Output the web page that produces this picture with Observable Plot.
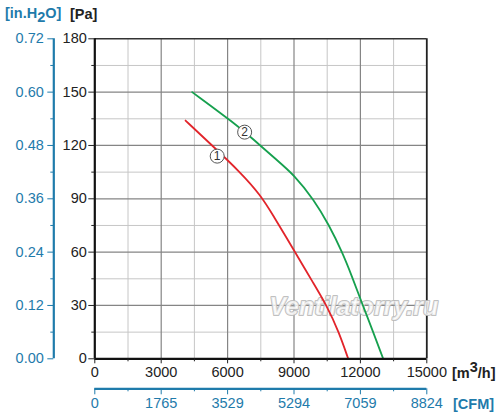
<!DOCTYPE html>
<html>
<head>
<meta charset="utf-8">
<script src="https://cdn.jsdelivr.net/npm/d3@7"></script>
<script src="https://cdn.jsdelivr.net/npm/@observablehq/plot@0.6"></script>
<style>
  html, body { margin: 0; padding: 0; background: #fff; }
  #chart svg { display: block; font-family: "Liberation Sans", Arial, sans-serif; }
</style>
</head>
<body>
<div id="chart"></div>
<script>
// Curve 1 (red)
const curve1Flow = [4100, 5300, 6570, 7500, 8090, 8690, 9000, 9450, 9780, 10480, 11030, 11450];
const curve1Pa   = [134, 120, 105, 92, 80, 67.5, 61, 51.5, 44.5, 30, 15, 0];
// Curve 2 (green)
const curve2Flow = [4400, 6360, 7160, 8240, 9000, 9900, 10570, 11180, 11630, 12080, 12580, 13030];
const curve2Pa   = [150, 132, 123.5, 111.6, 103.5, 89.5, 75.5, 60, 46, 31, 15, 0];

// Curve label positions
const curveLabels = ["1", "2"];
const curveLabelFlow = [5530, 6770];
const curveLabelPa = [114, 127.5];

// Axis ticks
const flowTicks = [0, 3000, 6000, 9000, 12000, 15000];
const flowMinorTicks = [1500, 4500, 7500, 10500, 13500];
const cfmLabels = ["0", "1765", "3529", "5294", "7059", "8824"];
const paTicks = [0, 30, 60, 90, 120, 150, 180];
const paMinorTicks = [15, 45, 75, 105, 135, 165];
const inH2OLabels = ["0.00", "0.12", "0.24", "0.36", "0.48", "0.60", "0.72"];

const watermark = "Ventilatorry.ru";
const watermarkFlow = 11700;
const watermarkPa = 29;

const BLUE = "#1f7bab";
const RED = "#e2242a";
const GREEN = "#16a04e";
const FS = 14.5;

const c1 = curve1Flow.map((f, i) => ({flow: f, pa: curve1Pa[i]}));
const c2 = curve2Flow.map((f, i) => ({flow: f, pa: curve2Pa[i]}));
const labels = curveLabels.map((t, i) => ({t, flow: curveLabelFlow[i], pa: curveLabelPa[i]}));

const chart = Plot.plot({
  width: 500,
  height: 418,
  marginLeft: 94.3,
  marginRight: 73.7,
  marginTop: 38.3,
  marginBottom: 59.7,
  style: {fontFamily: "Liberation Sans, Arial, sans-serif", fontSize: FS + "px", background: "white"},
  x: {domain: [0, 15000], axis: null},
  y: {domain: [0, 180], axis: null},
  marks: [
    // grid
    Plot.ruleX(flowMinorTicks, {stroke: "#c6c6c6", strokeWidth: 1}),
    Plot.ruleY(paMinorTicks, {stroke: "#c6c6c6", strokeWidth: 1}),
    Plot.ruleX(flowTicks.slice(1, -1), {stroke: "#858585", strokeWidth: 1.2}),
    Plot.ruleY(paTicks.slice(1, -1), {stroke: "#858585", strokeWidth: 1.2}),
    // frame top / right
    Plot.ruleY([180], {stroke: "#333", strokeWidth: 1.6}),
    Plot.ruleX([15000], {stroke: "#222", strokeWidth: 1.8}),
    // watermark
    Plot.text([watermark], {x: () => watermarkFlow, y: () => watermarkPa, text: d => d,
      fontSize: 25, fontStyle: "italic", fontWeight: "bold", fill: "white", fillOpacity: 0.75,
      stroke: "#b8b8b8", strokeWidth: 2, strokeOpacity: 0.9}),
    // curves
    Plot.line(c1, {x: "flow", y: "pa", stroke: RED, strokeWidth: 1.8, curve: "basis"}),
    Plot.line(c2, {x: "flow", y: "pa", stroke: GREEN, strokeWidth: 1.8, curve: "basis"}),
    Plot.dot(labels, {x: "flow", y: "pa", r: 7, fill: "white", stroke: "#555", strokeWidth: 1}),
    Plot.text(labels, {x: "flow", y: "pa", text: "t", fontSize: 12, fill: "#333", dy: 0.5}),
    // main axes lines
    Plot.ruleX([0], {stroke: "#111", strokeWidth: 2.2}),
    Plot.ruleY([0], {stroke: "#111", strokeWidth: 2.2}),
    // black Pa axis
    Plot.axisY(paTicks, {anchor: "left", tickSize: 6, tickPadding: 2, color: "#222", fontSize: FS,
      tickFormat: d => String(d), label: null}),
    Plot.axisY(paMinorTicks, {anchor: "left", tickSize: 3, tickFormat: () => "", color: "#222", label: null}),
    // black m3/h axis
    Plot.axisX(flowTicks, {anchor: "bottom", tickSize: 5, tickPadding: 3, color: "#222", fontSize: FS,
      tickFormat: d => String(d), label: null}),
    Plot.axisX(flowMinorTicks, {anchor: "bottom", tickSize: 3, tickFormat: () => "", color: "#222", label: null}),
    // blue in.H2O axis
    Plot.ruleX([0], {y1: 0, y2: 180, dx: -41, stroke: BLUE, strokeWidth: 2.2}),
    Plot.axisY(paTicks, {anchor: "left", dx: -41, tickSize: 6, tickPadding: 4, color: BLUE, fontSize: FS,
      tickFormat: d => inH2OLabels[paTicks.indexOf(d)], label: null}),
    Plot.axisY(paMinorTicks, {anchor: "left", dx: -41, tickSize: 3, tickFormat: () => "", color: BLUE, label: null}),
    // blue CFM axis
    Plot.ruleY([0], {x1: 0, x2: 15000, dy: 30, stroke: BLUE, strokeWidth: 2.2}),
    Plot.axisX(flowTicks, {anchor: "bottom", dy: 30, tickSize: 6, tickPadding: 3, color: BLUE, fontSize: FS,
      tickFormat: d => cfmLabels[flowTicks.indexOf(d)], label: null}),
    Plot.axisX(flowMinorTicks, {anchor: "bottom", dy: 30, tickSize: 3, tickFormat: () => "", color: BLUE, label: null})
  ]
});

document.getElementById("chart").appendChild(chart);

// unit labels
const svg = d3.select(chart);
const g = svg.append("g")
  .attr("font-family", "Liberation Sans, Arial, sans-serif")
  .attr("font-weight", "bold")
  .attr("text-anchor", "start");

const t1 = g.append("text").attr("x", 5).attr("y", 18).attr("fill", BLUE).attr("font-size", FS);
t1.append("tspan").text("[in.H");
t1.append("tspan").attr("dy", 4).text("2");
t1.append("tspan").attr("dy", -4).text("O]");

g.append("text").attr("x", 70).attr("y", 19).attr("fill", "#222").attr("font-size", FS).text("[Pa]");

const t2 = g.append("text").attr("x", 452).attr("y", 378).attr("fill", "#222").attr("font-size", FS);
t2.append("tspan").text("[m");
t2.append("tspan").attr("dy", -6).text("3");
t2.append("tspan").attr("dy", 6).text("/h]");

g.append("text").attr("x", 453).attr("y", 409).attr("fill", BLUE).attr("font-size", FS).text("[CFM]");
</script>
</body>
</html>
